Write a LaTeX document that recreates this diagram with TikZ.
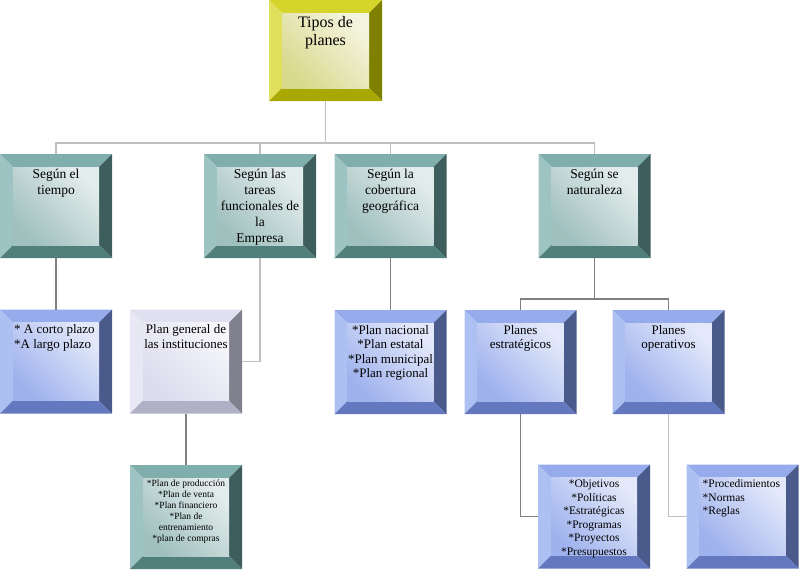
\documentclass[tikz,border=0pt]{standalone}
\usepackage{fontspec}
\setmainfont{Liberation Serif}
\usepackage{tikz}
\usetikzlibrary{calc, positioning}
\usepackage{xcolor}
\definecolor{ytop}{HTML}{D4D42A}
\definecolor{yleft}{HTML}{E0E05C}
\definecolor{yright}{HTML}{808000}
\definecolor{ybot}{HTML}{A8A800}
\definecolor{ytint}{HTML}{D2D27A}
\definecolor{ttop}{HTML}{80AEAC}
\definecolor{tleft}{HTML}{9DC3C2}
\definecolor{tright}{HTML}{3D5E5C}
\definecolor{tbot}{HTML}{517F7C}
\definecolor{ttint}{HTML}{8FB5B3}
\definecolor{btop}{HTML}{95ABEB}
\definecolor{bleft}{HTML}{ADC0F2}
\definecolor{bright}{HTML}{4A5A8A}
\definecolor{bbot}{HTML}{6378BE}
\definecolor{btint}{HTML}{8EA4EA}
\definecolor{ltop}{HTML}{E0E0F0}
\definecolor{lleft}{HTML}{E8E8F4}
\definecolor{lright}{HTML}{80808E}
\definecolor{lbot}{HTML}{B0B0C6}
\definecolor{ltint}{HTML}{D6D6EC}
\definecolor{lightline}{HTML}{BFBFBF}
\definecolor{darkline}{HTML}{808080}
\tikzset{
  bevel/.style n args={5}{shape=rectangle, minimum width=112pt, minimum height=104pt,
    inner sep=0pt, outer sep=0pt,
    path picture={
      \coordinate (bnw) at (path picture bounding box.north west);
      \coordinate (bne) at (path picture bounding box.north east);
      \coordinate (bsw) at (path picture bounding box.south west);
      \coordinate (bse) at (path picture bounding box.south east);
      \fill[#1] (bnw) -- (bne) -- ($(bne)+(-13pt,-13pt)$) -- ($(bnw)+(13pt,-13pt)$) -- cycle;
      \fill[#2] (bnw) -- ($(bnw)+(13pt,-13pt)$) -- ($(bsw)+(13pt,13pt)$) -- (bsw) -- cycle;
      \fill[#3] (bne) -- ($(bne)+(-13pt,-13pt)$) -- ($(bse)+(-13pt,13pt)$) -- (bse) -- cycle;
      \fill[#4] (bsw) -- ($(bsw)+(13pt,13pt)$) -- ($(bse)+(-13pt,13pt)$) -- (bse) -- cycle;
      \shade[top color=#5!85, middle color=white, bottom color=#5!25, shading angle=135]
        ($(bnw)+(13pt,-13pt)$) rectangle ($(bse)+(-13pt,13pt)$);
    }},
  yellowbox/.style={bevel={ytop}{yleft}{yright}{ybot}{ytint}},
  tealbox/.style={bevel={ttop}{tleft}{tright}{tbot}{ttint}},
  bluebox/.style={bevel={btop}{bleft}{bright}{bbot}{btint}},
  lilacbox/.style={bevel={ltop}{lleft}{lright}{lbot}{ltint}},
  boxtext/.style={anchor=north, yshift=-15pt, inner sep=0pt, align=center,
    font=\fontsize{13.5}{16}\selectfont},
  itemtext/.style={boxtext, font=\fontsize{13}{14.5}\selectfont},
  smalltext/.style={boxtext, font=\fontsize{11.5}{13.5}\selectfont},
  lefttext/.style={anchor=north west, xshift=14pt, align=left},
  lightlink/.style={draw=lightline, line width=1.4pt},
  darklink/.style={draw=darkline, line width=1.4pt}
}
\begin{document}
\begin{tikzpicture}[x=1pt, y=-1pt]
\useasboundingbox (0,0) rectangle (800,571);
\node[yellowbox, minimum width=113pt, minimum height=101pt,
  label={[boxtext, yshift=-1pt, font=\fontsize{16}{18}\selectfont]north:{Tipos de\\planes}}] (tipos) at (325.5,50.5) {};

\node[tealbox, label={[boxtext]north:{Según el\\tiempo}}] (tiempo) at (56,206) {};
\node[tealbox, label={[boxtext]north:{Según las\\tareas\\funcionales de\\la\\Empresa}}] (tareas) at (260,206) {};
\node[tealbox, label={[boxtext]north:{Según la\\cobertura\\geográfica}}] (cobertura) at (390.5,206) {};
\node[tealbox, label={[boxtext]north:{Según se\\naturaleza}}] (naturaleza) at (594.5,206) {};

\node[bluebox, label={[itemtext, lefttext]north west:{* A corto plazo\\*A largo plazo}}] (corto) at (56,361.5) {};
\node[lilacbox, label={[itemtext]north:{Plan general de\\las instituciones}}] (general) at (186,361.5) {};
\node[bluebox, label={[itemtext]north:{*Plan nacional\\*Plan estatal\\*Plan municipal\\*Plan regional}}] (nacional) at (390.5,362) {};
\node[bluebox, label={[itemtext]north:{Planes\\estratégicos}}] (estrategicos) at (520.5,362) {};
\node[bluebox, label={[itemtext]north:{Planes\\operativos}}] (operativos) at (668.5,362) {};

\node[tealbox, label={[boxtext, font=\fontsize{9.5}{11}\selectfont]north:{*Plan de producción\\*Plan de venta\\*Plan financiero\\*Plan de\\entrenamiento\\*plan de compras}}] (produccion) at (186,517) {};
\node[bluebox, label={[smalltext]north:{*Objetivos\\*Políticas\\*Estratégicas\\*Programas\\*Proyectos\\*Presupuestos}}] (objetivos) at (594,516.5) {};
\node[bluebox, label={[smalltext, lefttext, xshift=2pt]north west:{*Procedimientos\\*Normas\\*Reglas}}] (procedimientos) at (742.5,516.5) {};

\foreach \nd in {tiempo,tareas,cobertura,naturaleza}
  \draw[lightlink] (tipos.south) -- ++(0,42) -| (\nd.north);
\draw[darklink] (tiempo.south) -- (corto.north);
\draw[lightlink] (tareas.south) |- (general.east);
\draw[darklink] (general.south) -- (produccion.north);
\draw[darklink] (cobertura.south) -- (nacional.north);
\foreach \nd in {estrategicos,operativos}
  \draw[darklink] (naturaleza.south) -- ++(0,41) -| (\nd.north);
\draw[darklink] (estrategicos.south) |- (objetivos.west);
\draw[lightlink] (operativos.south) |- (procedimientos.west);
\end{tikzpicture}
\end{document}
